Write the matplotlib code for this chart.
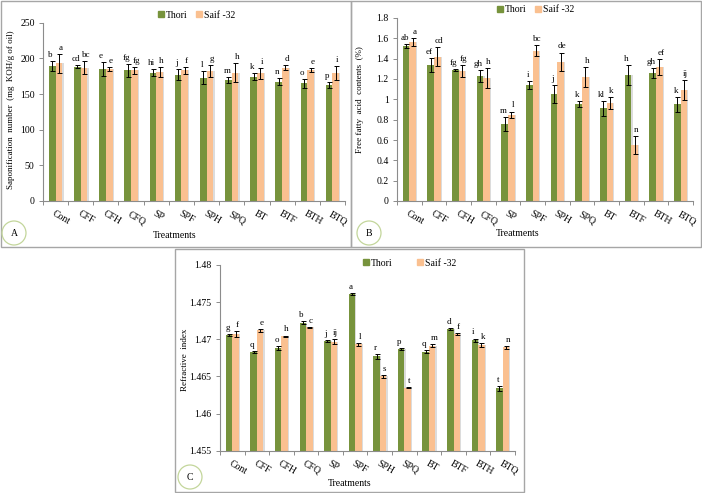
import matplotlib
matplotlib.use('Agg')
import matplotlib.pyplot as plt
import numpy as np
from matplotlib.patches import Rectangle, Ellipse
from matplotlib.lines import Line2D
from matplotlib.ticker import FuncFormatter, FixedLocator

plt.rcParams['font.family'] = ['Liberation Serif', 'DejaVu Serif']

treatments = ['Cont', 'CFF', 'CFH', 'CFQ', 'SP', 'SPF', 'SPH', 'SPQ', 'BT', 'BTF', 'BTH', 'BTQ']
series_names = ['Thori', 'Saif -32']

# Panel A: Saponification number
sap_thori = [189, 188, 185, 183, 180, 177, 173, 170, 174, 167, 165, 163]
sap_thori_err = [6.6, 2, 10, 9, 5, 8, 9, 4, 5, 5, 6, 4]
sap_saif = [193, 187, 185, 183, 181, 183, 182, 180, 179, 187, 184, 179]
sap_saif_err = [13, 9, 3, 5, 7, 5, 8, 13, 8, 3, 3, 10]
sap_thori_lbl = ['b', 'cd', 'e', 'fg', 'hi', 'j', 'l', 'm', 'k', 'n', 'o', 'p']
sap_saif_lbl = ['a', 'bc', 'e', 'fg', 'h', 'f', 'g', 'h', 'i', 'd', 'e', 'i']

# Panel B: Free fatty acid contents
ffa_thori = [1.52, 1.34, 1.29, 1.23, 0.76, 1.14, 1.05, 0.95, 0.91, 1.24, 1.26, 0.95]
ffa_thori_err = [0.02, 0.07, 0.01, 0.06, 0.07, 0.04, 0.09, 0.03, 0.07, 0.10, 0.05, 0.07]
ffa_saif = [1.56, 1.42, 1.28, 1.21, 0.85, 1.48, 1.37, 1.22, 0.96, 0.55, 1.32, 1.09]
ffa_saif_err = [0.04, 0.09, 0.06, 0.10, 0.03, 0.05, 0.09, 0.10, 0.06, 0.09, 0.08, 0.10]
ffa_thori_lbl = ['ab', 'ef', 'fg', 'gh', 'm', 'i', 'j', 'k', 'kl', 'h', 'gh', 'k']
ffa_saif_lbl = ['a', 'cd', 'fg', 'h', 'l', 'bc', 'de', 'h', 'k', 'n', 'ef', 'ij']

# Panel C: Refractive index
ri_thori = [1.4706, 1.4683, 1.4688, 1.4722, 1.4698, 1.4761, 1.4677, 1.4687, 1.4683, 1.4714, 1.4699, 1.4634]
ri_thori_err = [0.0001, 0.0001, 0.0003, 0.0002, 0.0001, 0.0001, 0.0003, 0.0001, 0.0002, 0.0001, 0.0002, 0.0003]
ri_saif = [1.4707, 1.4712, 1.4704, 1.4716, 1.4697, 1.4693, 1.4650, 1.4635, 1.4691, 1.4707, 1.4692, 1.4689]
ri_saif_err = [0.0004, 0.0002, 0.0001, 0.0001, 0.0003, 0.0002, 0.0002, 0.0001, 0.0002, 0.0001, 0.0003, 0.0002]
ri_thori_lbl = ['g', 'q', 'o', 'b', 'j', 'a', 'r', 'p', 'q', 'd', 'i', 't']
ri_saif_lbl = ['f', 'e', 'h', 'c', 'ij', 'l', 's', 't', 'm', 'f', 'k', 'n']

GREEN = '#77933C'
ORANGE = '#FAC090'
SHADOW = '#DCDCDC'
AXC = '#8C8C8C'

W, H = 702, 493
fig = plt.figure(figsize=(W / 100, H / 100), dpi=100)


def fx(px):
    return px / W


def fy(py):
    return 1 - py / H


def make_axes(l, r, t, b):
    return fig.add_axes([fx(l), fy(b), (r - l) / W, (b - t) / H])


def draw_panel(ax, a_vals, a_err, b_vals, b_err, a_lbl, b_lbl, ylim, yticks, base=0.0):
    x = np.arange(len(treatments))
    bw = 0.265
    xa = x - bw / 2
    xb = x + bw / 2
    ha = np.array(a_vals) - base
    hb = np.array(b_vals) - base
    ax.bar(xa + 0.05, ha, bw, bottom=base, color=SHADOW, zorder=1, linewidth=0)
    ax.bar(xb + 0.05, hb, bw, bottom=base, color=SHADOW, zorder=1, linewidth=0)
    ax.bar(xa, ha, bw, bottom=base, color=GREEN, zorder=2, linewidth=0)
    ax.bar(xb, hb, bw, bottom=base, color=ORANGE, zorder=2, linewidth=0)
    ax.errorbar(xa, a_vals, yerr=a_err, fmt='none', ecolor='black', elinewidth=0.7,
                capsize=1.8, capthick=0.7, zorder=3)
    ax.errorbar(xb, b_vals, yerr=b_err, fmt='none', ecolor='black', elinewidth=0.7,
                capsize=1.8, capthick=0.7, zorder=3)
    for xi, v, e, l in zip(xa, a_vals, a_err, a_lbl):
        ax.annotate(l, (xi, v + e), xytext=(-1.2, 1.5), textcoords='offset points',
                    ha='center', va='bottom', fontsize=6.5)
    for xi, v, e, l in zip(xb, b_vals, b_err, b_lbl):
        ax.annotate(l, (xi, v + e), xytext=(1.2, 1.5), textcoords='offset points',
                    ha='center', va='bottom', fontsize=6.5)
    ax.set_xlim(-0.5, len(treatments) - 0.5)
    ax.set_ylim(*ylim)
    ax.set_yticks(yticks)
    ax.yaxis.set_major_formatter(FuncFormatter(lambda v, p: '%g' % round(v, 4)))
    ax.set_xticks(x)
    ax.set_xticklabels(treatments, rotation=-30, ha='left', rotation_mode='anchor')
    ax.xaxis.set_minor_locator(FixedLocator(np.arange(-0.5, len(treatments), 1.0)))
    ax.tick_params(axis='x', which='major', length=0, pad=6, labelsize=7)
    ax.tick_params(axis='x', which='minor', length=3, width=0.7, color=AXC, direction='out')
    ax.tick_params(axis='y', length=3, width=0.7, color=AXC, labelsize=7, pad=3)
    for s in ['top', 'right']:
        ax.spines[s].set_visible(False)
    for s in ['left', 'bottom']:
        ax.spines[s].set_color(AXC)
        ax.spines[s].set_linewidth(0.8)
    ax.patch.set_alpha(0)


# Panel frames
for (l, t, r, b) in [(1, 1, 351, 247), (351, 1, 701, 247), (175, 249, 524, 492)]:
    fig.add_artist(Rectangle((fx(l), fy(b)), (r - l) / W, (b - t) / H, transform=fig.transFigure,
                             fill=False, edgecolor='#A6A6A6', linewidth=1.0))

axA = make_axes(43, 345, 22.7, 201)
draw_panel(axA, sap_thori, sap_thori_err, sap_saif, sap_saif_err, sap_thori_lbl, sap_saif_lbl,
           (0, 250), [0, 50, 100, 150, 200, 250])

axB = make_axes(397, 693, 18, 201)
draw_panel(axB, ffa_thori, ffa_thori_err, ffa_saif, ffa_saif_err, ffa_thori_lbl, ffa_saif_lbl,
           (0, 1.8), [0, 0.2, 0.4, 0.6, 0.8, 1.0, 1.2, 1.4, 1.6, 1.8])

axC = make_axes(220, 515, 265, 450.7)
draw_panel(axC, ri_thori, ri_thori_err, ri_saif, ri_saif_err, ri_thori_lbl, ri_saif_lbl,
           (1.455, 1.48), [1.455, 1.46, 1.465, 1.47, 1.475, 1.48], base=1.455)

# Axis titles
fig.text(fx(11), fy(110), 'Saponification  number  (mg  KOH/g of oil)', rotation=90,
         ha='center', va='center', fontsize=6.5)
fig.text(fx(175), fy(235), 'Treatments', ha='center', va='center', fontsize=7)
fig.text(fx(360), fy(100), 'Free fatty  acid  contents  (%)', rotation=90,
         ha='center', va='center', fontsize=6.5)
fig.text(fx(518), fy(234), 'Treatments', ha='center', va='center', fontsize=7)
fig.text(fx(185), fy(360), 'Refractive  index', rotation=90,
         ha='center', va='center', fontsize=6.5)
fig.text(fx(350), fy(483), 'Treatments', ha='center', va='center', fontsize=7)

# Legends
handles = [Line2D([], [], marker='s', linestyle='none', color=GREEN, markersize=4),
           Line2D([], [], marker='s', linestyle='none', color=ORANGE, markersize=4)]
for (cx, cy, cs) in [(197, 15, 1.0), (536, 10, 1.0), (410, 263, 2.6)]:
    fig.legend(handles, series_names, loc='center', bbox_to_anchor=(fx(cx), fy(cy)),
               ncol=2, frameon=False, fontsize=7, handlelength=0.5, handletextpad=0.25,
               columnspacing=cs, borderpad=0)

# Panel circles
for (cx, cy, lab) in [(14, 233, 'A'), (369, 233, 'B'), (190, 477, 'C')]:
    r = 12
    fig.add_artist(Ellipse((fx(cx), fy(cy)), 2 * r / W, 2 * r / H, transform=fig.transFigure,
                           fill=False, edgecolor='#C3D69B', linewidth=0.9))
    fig.text(fx(cx), fy(cy), lab, ha='center', va='center', fontsize=7)

fig.savefig('out.png', dpi=100)
